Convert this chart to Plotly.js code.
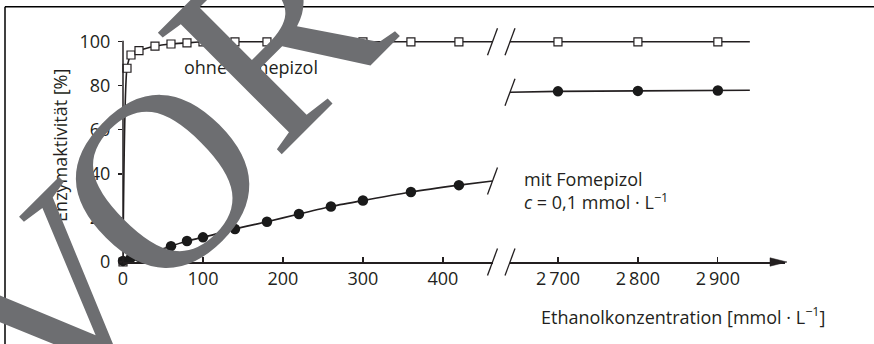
<!DOCTYPE html>
<html><head><meta charset="utf-8">
<script src="https://cdn.plot.ly/plotly-3.0.1.min.js"></script>
<style>html,body{margin:0;padding:0;background:#fff}#c{width:874px;height:344px}</style>
</head><body><div id="c"></div>
<script>
// ---- data ----
const xOhne = [0, 5, 10, 20, 40, 60, 80, 100, 140, 180, 220, 260, 300, 360, 420];
const yOhne = [0, 88, 94, 96, 98, 99, 99.5, 100, 100, 100, 100, 100, 100, 100, 100];
const xMit = [0, 10, 20, 40, 60, 80, 100, 140, 180, 220, 260, 300, 360, 420];
const yMit = [0.5, 2, 2.4, 4.8, 7.2, 9.5, 11.2, 15, 18.3, 21.8, 25.2, 27.9, 31.8, 34.9];
const xHigh = [2700, 2800, 2900];
const yOhneHigh = [100, 100, 100];
const yMitHigh = [77.5, 77.7, 77.9];
// curve extensions to the axis breaks
const breakLeft = 462, breakRight = 2640, curveEndRight = 2940, axisEnd = 2984;
const ohneEndLeft = 100, mitEndLeft = 36.8;
const ohneStartRight = 100, ohneEndRight = 100;
const mitStartRight = 77.1, mitEndRight = 78.0;
const xTicksLeft = [0, 100, 200, 300, 400];
const xTicksRight = [2700, 2800, 2900];
const xTickTextRight = ['2\u2009700', '2\u2009800', '2\u2009900'];
const yTicks = [0, 20, 40, 60, 80, 100];
const yMax = 100, yTop = 104;
const watermarkLetters = ['V', 'O', 'R'];

// ---- geometry ----
const W = 874, H = 344, L = 123, R = 785, B = 262;
const pxPerY = 2.2;
const T = B - yTop * pxPerY;
const px = p => (p - L) / (R - L);
const py = p => (B - p) / (B - T);
const dom1 = [0, px(492.5)], dom2 = [px(510), 1];
const rng1 = [0, breakLeft], rng2 = [breakRight, axisEnd];
const xp1 = v => dom1[0] + (v - rng1[0]) / (rng1[1] - rng1[0]) * (dom1[1] - dom1[0]);
const xp2 = v => dom2[0] + (v - rng2[0]) / (rng2[1] - rng2[0]) * (dom2[1] - dom2[0]);
const yp = v => v / yTop;

const ink = '#231f20';
const FONT = 'Open Sans';
const lineStyle = {color: ink, width: 1.6};

const traces = [
  {x: xOhne.concat([breakLeft]), y: yOhne.concat([ohneEndLeft]), mode: 'lines', line: Object.assign({shape: 'spline', smoothing: 0.6}, lineStyle), xaxis: 'x', yaxis: 'y'},
  {x: xMit.concat([breakLeft]), y: yMit.concat([mitEndLeft]), mode: 'lines', line: Object.assign({shape: 'spline', smoothing: 0.6}, lineStyle), xaxis: 'x', yaxis: 'y'},
  {x: [breakRight].concat(xHigh, [curveEndRight]), y: [ohneStartRight].concat(yOhneHigh, [ohneEndRight]), mode: 'lines', line: lineStyle, xaxis: 'x2', yaxis: 'y'},
  {x: [breakRight].concat(xHigh, [curveEndRight]), y: [mitStartRight].concat(yMitHigh, [mitEndRight]), mode: 'lines', line: lineStyle, xaxis: 'x2', yaxis: 'y'},
  {x: xOhne, y: yOhne, mode: 'markers', marker: {symbol: 'square', size: 8, color: '#fff', line: {color: ink, width: 1.2}}, xaxis: 'x', yaxis: 'y', cliponaxis: false},
  {x: xHigh, y: yOhneHigh, mode: 'markers', marker: {symbol: 'square', size: 8, color: '#fff', line: {color: ink, width: 1.2}}, xaxis: 'x2', yaxis: 'y', cliponaxis: false},
  {x: xMit, y: yMit, mode: 'markers', marker: {symbol: 'circle', size: 10.5, color: '#1a1a1a'}, xaxis: 'x', yaxis: 'y', cliponaxis: false},
  {x: xHigh, y: yMitHigh, mode: 'markers', marker: {symbol: 'circle', size: 10.5, color: '#1a1a1a'}, xaxis: 'x2', yaxis: 'y', cliponaxis: false}
];

// break slashes (paper-referenced so they are not clipped)
function slash(xpaper, yv) {
  return {type: 'line', xref: 'paper', yref: 'paper', xsizemode: 'pixel', ysizemode: 'pixel',
    xanchor: xpaper, yanchor: yp(yv), x0: -5, x1: 5, y0: -13.5, y1: 13.5,
    line: {color: ink, width: 1.3}};
}
const shapes = [
  slash(xp1(breakLeft), ohneEndLeft), slash(xp2(breakRight), ohneStartRight),
  slash(xp1(breakLeft), mitEndLeft), slash(xp2(breakRight), mitStartRight),
  slash(xp1(breakLeft), 0), slash(xp2(breakRight), 0),
  // y axis line 0..100
  {type: 'line', xref: 'paper', yref: 'paper', x0: 0, x1: 0, y0: yp(0), y1: yp(yMax) + 1 / (B - T), line: {color: ink, width: 1.5}},
  // arrow head at the end of the x axis
  {type: 'path', xref: 'paper', yref: 'paper', xsizemode: 'pixel', ysizemode: 'pixel', xanchor: xp2(axisEnd), yanchor: yp(0),
   path: 'M -15,-4.2 L 2,0 L -15,4.2 Z', fillcolor: ink, line: {color: ink, width: 0.5}},
  // frame
  {type: 'line', xref: 'paper', yref: 'paper', x0: px(5), x1: px(880), y0: py(7), y1: py(7), line: {color: '#000', width: 1.5}},
  {type: 'line', xref: 'paper', yref: 'paper', x0: px(5), x1: px(5), y0: py(7), y1: py(350), line: {color: '#000', width: 1.5}}
];

const txt = {family: FONT, size: 18, color: ink};
const annotations = [
  {xref: 'x', yref: 'y', x: 74, y: 88.6, xanchor: 'left', yanchor: 'middle', showarrow: false, text: 'ohne Fomepizol', font: txt},
  {xref: 'x2', yref: 'y', x: 2655, y: 32.3, xanchor: 'left', yanchor: 'middle', align: 'left', showarrow: false,
   text: 'mit Fomepizol<br><i>c</i> = 0,1 mmol · L<sup>−1</sup>', font: txt},
  {xref: 'paper', yref: 'paper', x: px(827), y: py(316), xanchor: 'right', yanchor: 'middle', showarrow: false,
   text: 'Ethanolkonzentration [mmol · L<sup>−1</sup>]', font: txt},
  {xref: 'paper', yref: 'paper', x: px(60), y: py(146), xanchor: 'center', yanchor: 'middle', textangle: -90, showarrow: false,
   text: 'Enzymaktivität [%]', font: txt}
];
// watermark letters (decoration drawn on top)
const wmCentres = [[52, 302], [161, 180], [275, 35]];
const wmSizes = [265, 250, 265];
watermarkLetters.forEach((ch, i) => {
  annotations.push({xref: 'paper', yref: 'paper', x: px(wmCentres[i][0]), y: py(wmCentres[i][1]),
    xanchor: 'center', yanchor: 'middle', textangle: -45, showarrow: false,
    text: ch, font: {family: 'Liberation Serif', size: wmSizes[i], color: 'rgb(109,110,113)'}});
});

const axCommon = {showline: true, linecolor: ink, linewidth: 1.5, showgrid: false, zeroline: false,
  tickcolor: ink, tickwidth: 1.2, tickfont: {family: FONT, size: 18, color: ink}, fixedrange: true};

const layout = {
  width: W, height: H, margin: {l: L, r: W - R, t: T, b: H - B, pad: 0},
  paper_bgcolor: '#fff', plot_bgcolor: 'rgba(0,0,0,0)', showlegend: false,
  xaxis: Object.assign({}, axCommon, {domain: dom1, range: rng1, anchor: 'y',
    ticks: 'inside', ticklen: 5, tickmode: 'array', tickvals: xTicksLeft}),
  xaxis2: Object.assign({}, axCommon, {domain: dom2, range: rng2, anchor: 'y',
    ticks: 'inside', ticklen: 5, tickmode: 'array', tickvals: xTicksRight, ticktext: xTickTextRight}),
  yaxis: Object.assign({}, axCommon, {showline: false, range: [0, yTop], anchor: 'x', ticks: 'outside', ticklen: 4,
    tickmode: 'array', tickvals: yTicks, ticklabelstandoff: 4}),
  shapes: shapes, annotations: annotations
};

Plotly.newPlot('c', traces, layout, {staticPlot: true, displayModeBar: false});
</script></body></html>
